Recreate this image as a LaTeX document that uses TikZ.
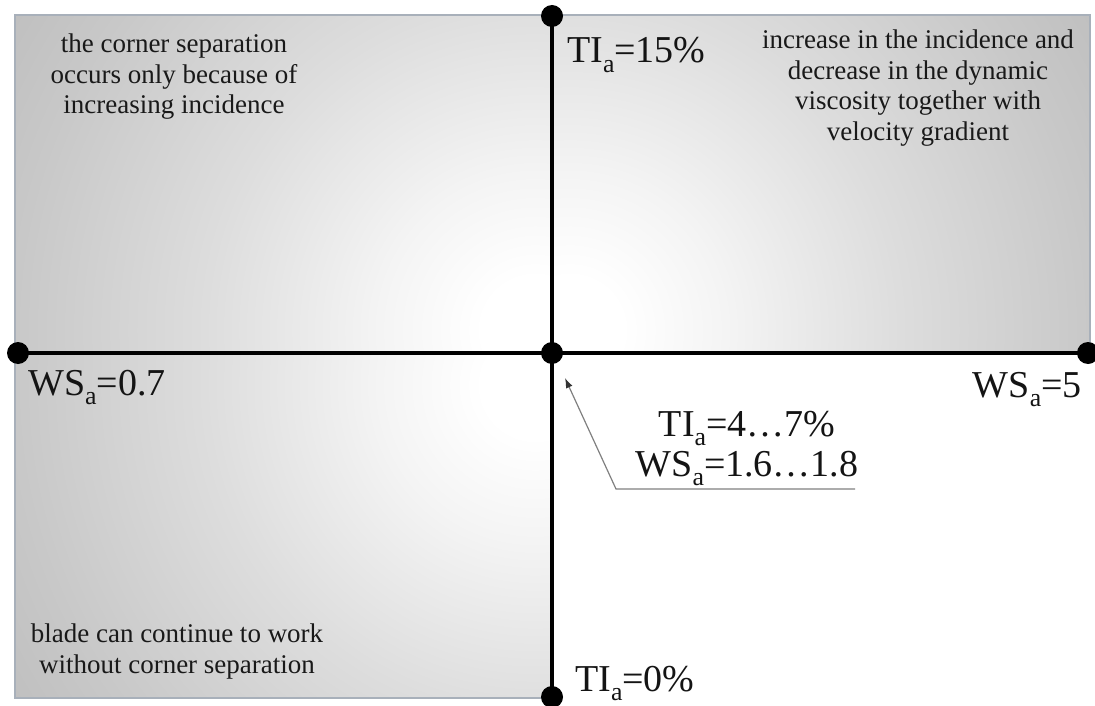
\documentclass[tikz,border=0pt]{standalone}
\usepackage{fontspec}
\setmainfont{Liberation Serif}
\usetikzlibrary{arrows.meta}
\definecolor{gA}{RGB}{244,244,244}
\definecolor{gB}{RGB}{221,221,221}
\definecolor{gC}{RGB}{200,200,200}
\definecolor{gD}{RGB}{188,188,188}
\definecolor{frameblue}{RGB}{168,176,186}
\pgfdeclareradialshading{qshade}{\pgfpoint{0bp}{0bp}}{color(0bp)=(white); color(2bp)=(white); color(6bp)=(gA); color(12.7bp)=(gB); color(20bp)=(gC); color(25bp)=(gD); color(50bp)=(gD)}
\newcommand\sbA{\raisebox{-0.25em}{\scalebox{0.68}{a}}}
\tikzset{
  axdot/.style={circle, fill=black, inner sep=0pt, minimum size=22pt},
  axisline/.style={line width=4pt, black},
  biglbl/.style={font=\fontsize{38}{40}\selectfont, inner sep=0pt, text=black!92, align=center},
  desc/.style={font=\fontsize{27}{30.5}\selectfont, align=center, inner sep=0pt, text=black!90},
  quadframe/.style={draw=frameblue, line width=2pt},
  callout/.style={draw=black!50, line width=1.2pt},
}
\begin{document}
\begin{tikzpicture}[x=1pt,y=-1pt]
\useasboundingbox (0,0) rectangle (1095,706);
\fill[white] (0,0) rectangle (1095,706);
% shaded quadrants
\begin{scope}
  \clip (15,15) rectangle (552,353);
  \shade[shading=qshade] (535,330) circle (650pt);
\end{scope}
\begin{scope}
  \clip (552,15) rectangle (1090,353);
  \shade[shading=qshade] (570,330) circle (650pt);
\end{scope}
\begin{scope}
  \clip (15,353) rectangle (552,698);
  \shade[shading=qshade] (535,385) circle (650pt);
\end{scope}
\draw[quadframe] (15,15) -- (1090,15) -- (1090,353) -- (552,353) -- (552,698) -- (15,698) -- cycle;
% axes
\node[axdot] (ldot) at (18,353) {};
\node[axdot] (rdot) at (1088,353) {};
\node[axdot] (tdot) at (552,16) {};
\node[axdot] (bdot) at (552,697) {};
\node[axdot] (cdot) at (552,353) {};
\draw[axisline] (ldot.center) -- (rdot.center);
\draw[axisline] (tdot.center) -- (bdot.center);
% axis labels
\node[biglbl, anchor=base west] (ti15) at (567,63) {TI\sbA=15\%};
\node[biglbl, anchor=base west] (ws07) at (28,395) {WS\sbA=0.7};
\node[biglbl, anchor=base east] (ws5) at (1082,397) {WS\sbA=5};
\node[biglbl, anchor=base west] (ti0) at (575,691) {TI\sbA=0\%};
\node[biglbl, anchor=north] (mid) at (747,411) {TI\sbA=4…7\%\\WS\sbA=1.6…1.8};
% descriptions
\node[desc, anchor=north] (tl) at (174,33.6) {the corner separation\\occurs only because of\\increasing incidence};
\node[desc, anchor=north] (tr) at (918,30) {increase in the incidence and\\decrease in the dynamic\\viscosity together with\\velocity gradient};
\node[desc, anchor=north] (bl) at (177,623.6) {blade can continue to work\\without corner separation};
% callout
\coordinate (ulend) at (855,489);
\coordinate (elbow) at (616,489);
\coordinate (tip) at (565,378);
\draw[callout, -{Latex[length=10pt,width=7pt,color=black!80]}] (ulend) -- (elbow) -- (tip);
\end{tikzpicture}
\end{document}
